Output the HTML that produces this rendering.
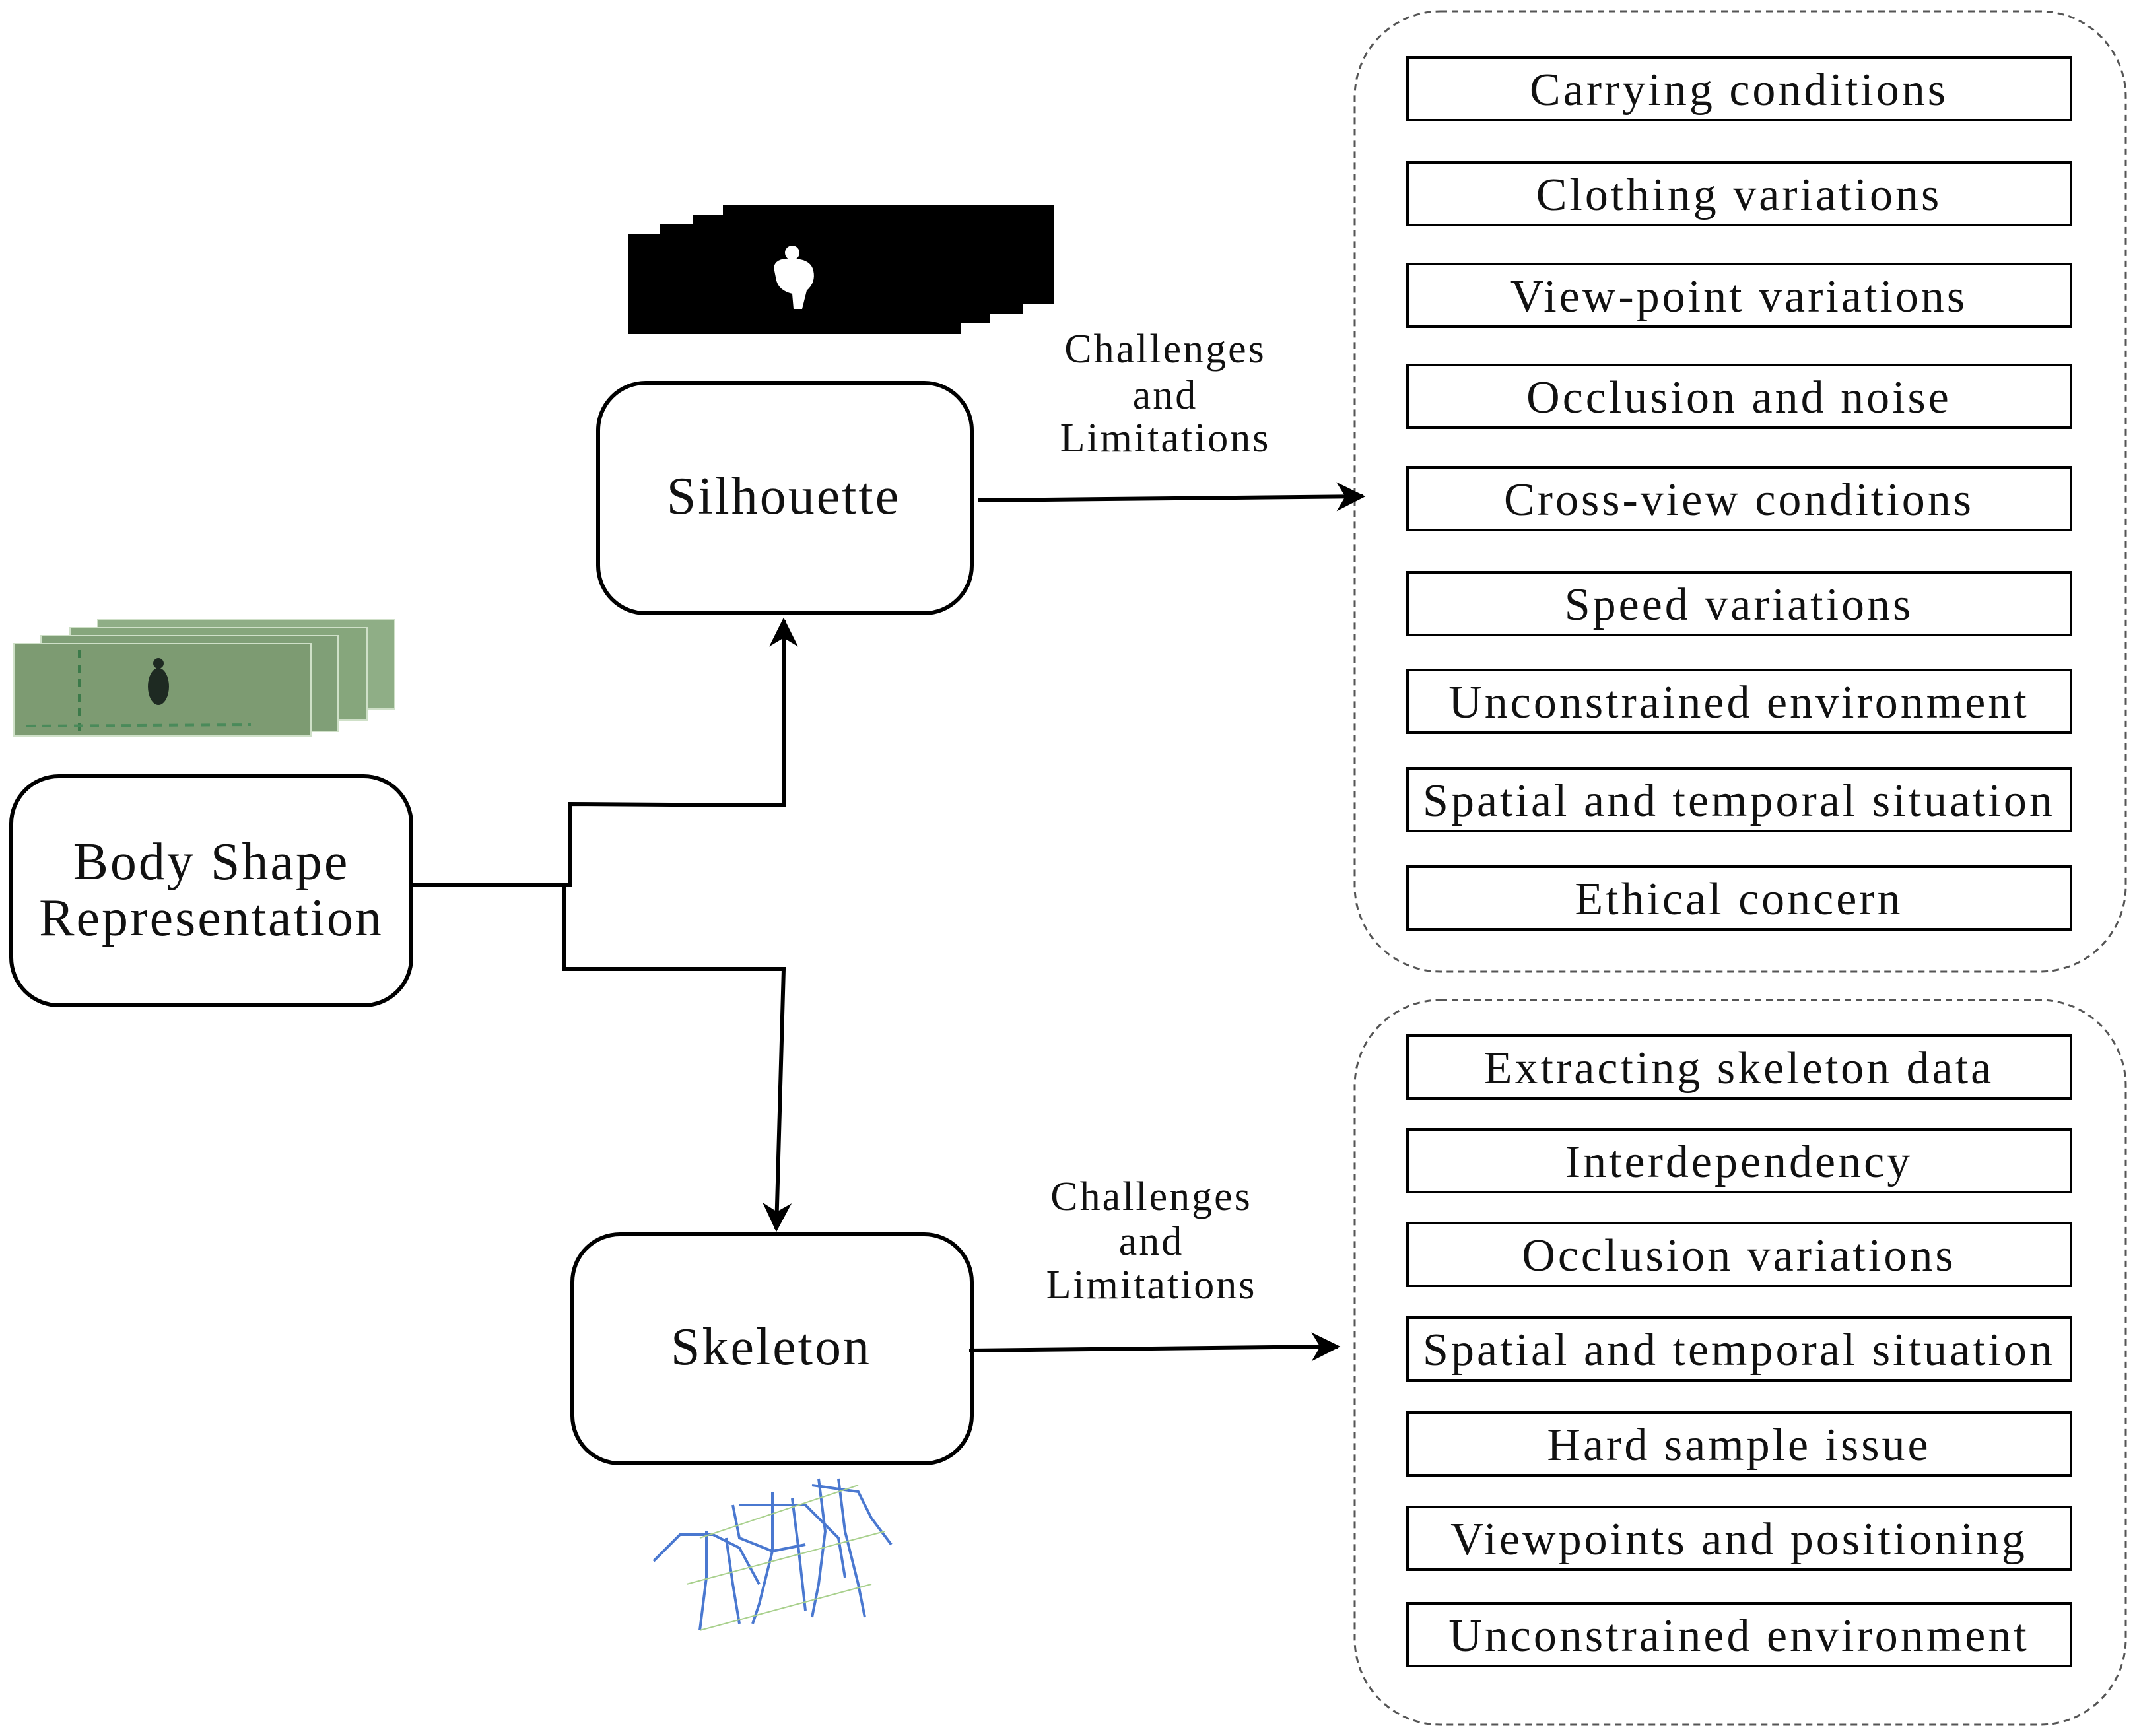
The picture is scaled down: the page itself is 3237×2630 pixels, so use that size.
<!DOCTYPE html>
<html><head><meta charset="utf-8"><style>html,body{margin:0;padding:0;background:#fff}svg{display:block}</style></head>
<body>
<svg width="3237" height="2630" viewBox="0 0 3237 2630" xmlns="http://www.w3.org/2000/svg" font-family="Liberation Serif, serif">
<defs>
<marker id="a2" viewBox="0 0 10 10" refX="9" refY="5" markerWidth="44" markerHeight="44" orient="auto" markerUnits="userSpaceOnUse"><path d="M0,0 L10,5 L0,10 L3,5 z" fill="#000"/></marker></defs>

<rect x="2052" y="17" width="1168" height="1455" rx="130" fill="none" stroke="#555" stroke-width="3" stroke-dasharray="10,7"/>
<rect x="2052" y="1515" width="1168" height="1098" rx="130" fill="none" stroke="#555" stroke-width="3" stroke-dasharray="10,7"/>

<g fill="none" stroke="#000" stroke-width="4">
<rect x="2132" y="87" width="1005" height="95"/>
<rect x="2132" y="246" width="1005" height="95"/>
<rect x="2132" y="400" width="1005" height="95"/>
<rect x="2132" y="553" width="1005" height="95"/>
<rect x="2132" y="708" width="1005" height="95"/>
<rect x="2132" y="867" width="1005" height="95"/>
<rect x="2132" y="1015" width="1005" height="95"/>
<rect x="2132" y="1164" width="1005" height="95"/>
<rect x="2132" y="1313" width="1005" height="95"/>
<rect x="2132" y="1569" width="1005" height="95"/>
<rect x="2132" y="1711" width="1005" height="95"/>
<rect x="2132" y="1853" width="1005" height="95"/>
<rect x="2132" y="1996" width="1005" height="95"/>
<rect x="2132" y="2140" width="1005" height="95"/>
<rect x="2132" y="2283" width="1005" height="95"/>
<rect x="2132" y="2429" width="1005" height="95"/>
</g>
<g font-size="70" text-anchor="middle" fill="#111" letter-spacing="4">
<text x="2634" y="159">Carrying conditions</text>
<text x="2634" y="318">Clothing variations</text>
<text x="2634" y="472">View-point variations</text>
<text x="2634" y="625">Occlusion and noise</text>
<text x="2634" y="780">Cross-view conditions</text>
<text x="2634" y="939">Speed variations</text>
<text x="2634" y="1087">Unconstrained environment</text>
<text x="2634" y="1236">Spatial and temporal situation</text>
<text x="2634" y="1385">Ethical concern</text>
<text x="2634" y="1641">Extracting skeleton data</text>
<text x="2634" y="1783">Interdependency</text>
<text x="2634" y="1925">Occlusion variations</text>
<text x="2634" y="2068">Spatial and temporal situation</text>
<text x="2634" y="2212">Hard sample issue</text>
<text x="2634" y="2355">Viewpoints and positioning</text>
<text x="2634" y="2501">Unconstrained environment</text>
</g>

<g fill="#fff" stroke="#000" stroke-width="6">
<rect x="906" y="580" width="566" height="349" rx="72"/>
<rect x="17" y="1176" width="606" height="347" rx="72"/>
<rect x="867" y="1870" width="605" height="347" rx="72"/>
</g>
<g font-size="80" text-anchor="middle" fill="#111" letter-spacing="3">
<text x="1187" y="778">Silhouette</text>
<text x="320" y="1332">Body Shape</text>
<text x="320" y="1417">Representation</text>
<text x="1168" y="2067">Skeleton</text>
</g>
<g font-size="62" text-anchor="middle" fill="#111" letter-spacing="3">
<text x="1765" y="549">Challenges</text>
<text x="1765" y="619">and</text>
<text x="1765" y="684">Limitations</text>
<text x="1744" y="1833">Challenges</text>
<text x="1744" y="1901">and</text>
<text x="1744" y="1967">Limitations</text>
</g>

<g fill="none" stroke="#000" stroke-width="6">
<polyline points="623,1341 863,1341 863,1218 1187,1220 1187,940" marker-end="url(#a2)"/>
<polyline points="863,1341 855,1341 855,1468 1187,1468 1176,1862" marker-end="url(#a2)"/>
<line x1="1482" y1="758" x2="2064" y2="752" marker-end="url(#a2)"/>
<line x1="1468" y1="2046" x2="2026" y2="2040" marker-end="url(#a2)"/>
</g>

<g fill="#000">
<rect x="1095" y="310" width="501" height="150"/>
<rect x="1050" y="325" width="500" height="150"/>
<rect x="1000" y="340" width="500" height="150"/>
<rect x="951" y="355" width="505" height="151"/>
</g>
<g fill="#fff">
<circle cx="1200" cy="383" r="11"/>
<path d="M1172,405 Q1175,390 1200,392 Q1228,392 1232,410 Q1236,428 1222,440 L1215,468 L1202,468 L1200,445 Q1180,440 1176,425 Z"/>
</g>

<g stroke="#cfe0c8" stroke-width="2">
<rect x="148" y="939" width="450" height="135" fill="#8fae86"/>
<rect x="106" y="951" width="450" height="140" fill="#86a67c"/>
<rect x="62" y="963" width="450" height="145" fill="#809f77"/>
<rect x="21" y="975" width="450" height="140" fill="#7d9b72"/>
</g>
<line x1="120" y1="985" x2="120" y2="1110" stroke="#3c7a4a" stroke-width="4" stroke-dasharray="12,10"/>
<line x1="40" y1="1100" x2="380" y2="1098" stroke="#4a8a5a" stroke-width="4" stroke-dasharray="14,10"/>
<ellipse cx="240" cy="1040" rx="16" ry="28" fill="#1e2a22"/>
<circle cx="240" cy="1005" r="8" fill="#1e2a22"/>

<g stroke="#4a78d0" stroke-width="4" fill="none">
<polyline points="990,2365 1030,2325 1080,2325 1120,2345 1150,2400"/>
<polyline points="1070,2320 1070,2390 1060,2470"/>
<polyline points="1100,2330 1110,2400 1120,2460"/>
<polyline points="1120,2280 1220,2280 1270,2330 1280,2390"/>
<polyline points="1170,2260 1170,2350 1150,2430 1140,2460"/>
<polyline points="1200,2270 1210,2350 1220,2440"/>
<polyline points="1230,2250 1300,2260 1320,2300 1350,2340"/>
<polyline points="1240,2240 1250,2320 1240,2400 1230,2450"/>
<polyline points="1270,2240 1280,2320 1300,2400 1310,2450"/>
<polyline points="1110,2280 1120,2330 1170,2350 1220,2340"/>
</g>
<g stroke="#a8d08c" stroke-width="2" fill="none">
<line x1="1060" y1="2330" x2="1300" y2="2250"/>
<line x1="1040" y1="2400" x2="1340" y2="2320"/>
<line x1="1060" y1="2470" x2="1320" y2="2400"/>
</g>
</svg>
</body></html>
